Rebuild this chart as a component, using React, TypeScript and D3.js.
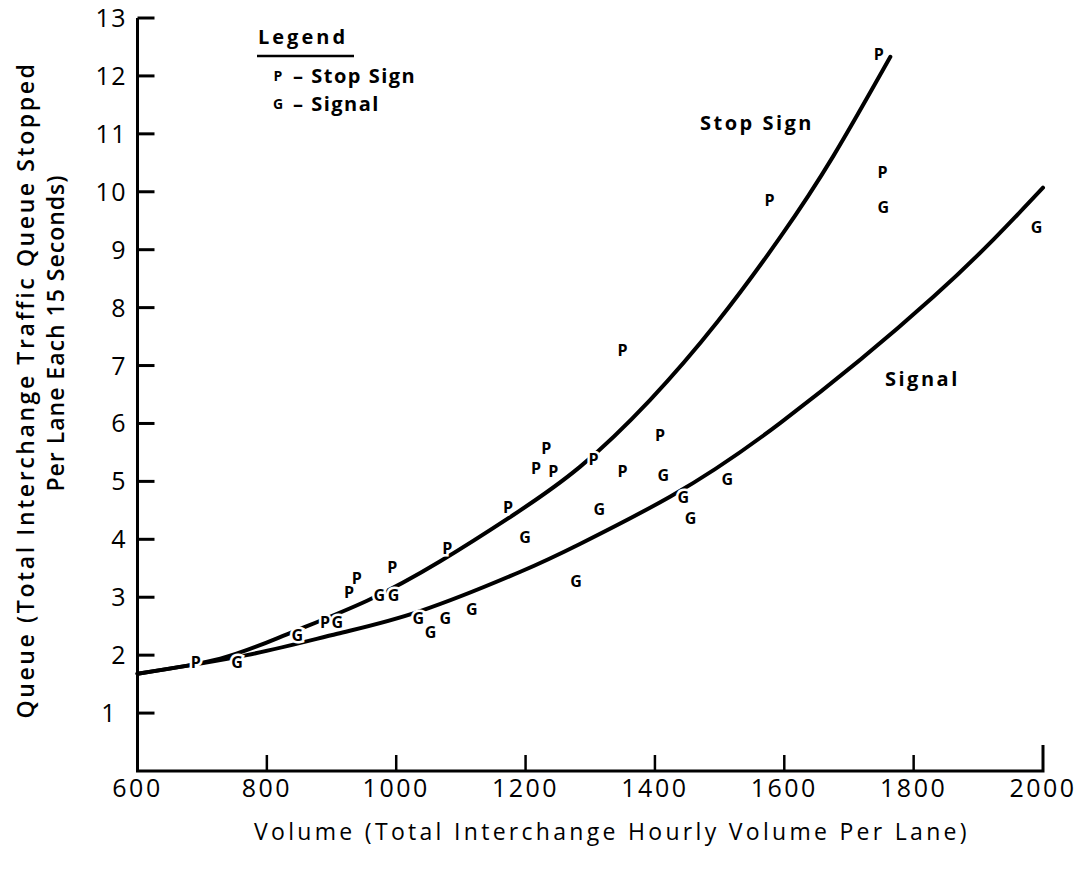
import * as d3 from "d3";

// values
const volumeTicks = [600, 800, 1000, 1200, 1400, 1600, 1800, 2000];
const queueTicks = [1, 2, 3, 4, 5, 6, 7, 8, 9, 10, 11, 12, 13];

// observed points, P = stop sign
const stopVol = [690, 890, 927, 939, 994, 1079, 1173, 1216, 1232, 1243, 1305, 1350, 1350, 1408, 1577, 1746, 1752];
const stopQueue = [1.87, 2.57, 3.09, 3.33, 3.52, 3.85, 4.56, 5.23, 5.58, 5.18, 5.39, 5.18, 7.27, 5.79, 9.86, 12.37, 10.33];

// observed points, G = signal
const signalVol = [754, 847, 909, 974, 996, 1034, 1053, 1076, 1117, 1199, 1278, 1314, 1413, 1444, 1455, 1512, 1753, 1990];
const signalQueue = [1.87, 2.35, 2.57, 3.04, 3.04, 2.63, 2.4, 2.63, 2.8, 4.04, 3.28, 4.52, 5.11, 4.73, 4.37, 5.03, 9.74, 9.38];

// fitted curves (traced, lightly smoothed)
const stopCurveVol = [600, 728, 831, 955, 1068, 1181, 1284, 1392, 1497, 1594, 1676, 1764];
const stopCurveQueue = [1.68, 1.94, 2.36, 2.94, 3.62, 4.42, 5.25, 6.4, 7.76, 9.22, 10.62, 12.33];
const signalCurveVol = [600, 769, 909, 1037, 1192, 1284, 1424, 1594, 1831, 2000];
const signalCurveQueue = [1.68, 2.0, 2.37, 2.76, 3.44, 3.92, 4.74, 6.01, 8.19, 10.07];

const W = 1092;
const H = 876;
const font = "'Open Sans', 'DejaVu Sans', sans-serif";

export default function App() {
  const x = d3.scaleLinear([600, 2000], [137.5, 1043]);
  const y = d3.scaleLinear([0, 13], [771, 18]);

  const line = d3
    .line<[number, number]>()
    .x((d) => x(d[0]))
    .y((d) => y(d[1]))
    .curve(d3.curveNatural);

  const stopCurve = stopCurveVol.map((v, i) => [v, stopCurveQueue[i]] as [number, number]);
  const signalCurve = signalCurveVol.map((v, i) => [v, signalCurveQueue[i]] as [number, number]);

  const marker = (letter: string, v: number, q: number, key: string) => (
    <text
      key={key}
      x={x(v)}
      y={y(q)}
      dy="0.36em"
      textAnchor="middle"
      fontSize={16}
      fontWeight={700}
      fontFamily={font}
      stroke="#fff"
      strokeWidth={5}
      paintOrder="stroke"
      fill="#000"
    >
      {letter}
    </text>
  );

  return (
    <svg
      width={W}
      height={H}
      viewBox={`0 0 ${W} ${H}`}
      style={{ position: "absolute", left: 0, top: 0, background: "#fff" }}
    >
      <rect width={W} height={H} fill="#fff" />

      {/* axes */}
      <path
        d={`M${x(600)},${y(13)} V${y(0)} H${x(2000)} V${y(0) - 26}`}
        fill="none"
        stroke="#000"
        strokeWidth={3}
      />
      {queueTicks.map((t) => (
        <g key={"yt" + t}>
          <line x1={x(600)} x2={x(600) + 17} y1={y(t)} y2={y(t)} stroke="#000" strokeWidth={3} />
          <text
            x={t === 1 ? 117 : 127}
            y={y(t)}
            dy="0.36em"
            textAnchor="end"
            fontSize={25}
            letterSpacing={1.5}
            fontFamily={font}
            fill="#000"
          >
            {t}
          </text>
        </g>
      ))}
      {volumeTicks.map((t) => (
        <g key={"xt" + t}>
          {t > 600 && t < 2000 && (
            <line x1={x(t)} x2={x(t)} y1={y(0)} y2={y(0) - 16} stroke="#000" strokeWidth={2.5} />
          )}
          <text
            x={x(t)}
            y={797}
            textAnchor="middle"
            fontSize={25}
            letterSpacing={2.5}
            fontFamily={font}
            fill="#000"
          >
            {t}
          </text>
        </g>
      ))}

      {/* axis titles */}
      <text
        x={612}
        y={840}
        textAnchor="middle"
        fontSize={23}
        letterSpacing={3.3}
        fontFamily={font}
        fontWeight={500}
        fill="#000"
      >
        Volume (Total Interchange Hourly Volume Per Lane)
      </text>
      <text
        transform="translate(34,390) rotate(-90)"
        textAnchor="middle"
        fontSize={23}
        letterSpacing={2.6}
        fontWeight={600}
        fontFamily={font}
        fill="#000"
      >
        Queue (Total Interchange Traffic Queue Stopped
      </text>
      <text
        transform="translate(64,333) rotate(-90)"
        textAnchor="middle"
        fontSize={23}
        letterSpacing={1}
        fontWeight={600}
        fontFamily={font}
        fill="#000"
      >
        Per Lane Each 15 Seconds)
      </text>

      {/* curves */}
      <path d={line(stopCurve) ?? ""} fill="none" stroke="#000" strokeWidth={4} strokeLinecap="round" />
      <path d={line(signalCurve) ?? ""} fill="none" stroke="#000" strokeWidth={4} strokeLinecap="round" />

      {/* points */}
      {stopVol.map((v, i) => marker("P", v, stopQueue[i], "p" + i))}
      {signalVol.map((v, i) => marker("G", v, signalQueue[i], "g" + i))}

      {/* curve labels */}
      <text x={700} y={130} fontSize={20} letterSpacing={2.5} fontWeight={700} fontFamily={font} fill="#000">
        Stop Sign
      </text>
      <text x={885} y={386} fontSize={20} letterSpacing={2.5} fontWeight={700} fontFamily={font} fill="#000">
        Signal
      </text>

      {/* legend */}
      <text x={258} y={44} fontSize={20} letterSpacing={3} fontWeight={700} fontFamily={font} fill="#000">
        Legend
      </text>
      <line x1={257} x2={354} y1={56} y2={56} stroke="#000" strokeWidth={2.5} />
      <text x={278} y={81} textAnchor="middle" fontSize={14} fontWeight={700} fontFamily={font} fill="#000">
        P
      </text>
      <text x={293} y={83} fontSize={20} letterSpacing={1.5} fontWeight={700} fontFamily={font} fill="#000">
        – Stop Sign
      </text>
      <text x={278} y={109} textAnchor="middle" fontSize={14} fontWeight={700} fontFamily={font} fill="#000">
        G
      </text>
      <text x={293} y={111} fontSize={20} letterSpacing={1.5} fontWeight={700} fontFamily={font} fill="#000">
        – Signal
      </text>
    </svg>
  );
}
